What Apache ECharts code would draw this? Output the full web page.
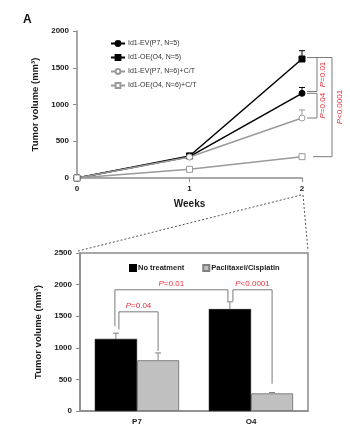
<!DOCTYPE html>
<html><head><meta charset="utf-8">
<script src="https://cdn.jsdelivr.net/npm/echarts@6/dist/echarts.min.js"></script>
<style>html,body{margin:0;padding:0;background:#fff}#c{width:350px;height:434px}</style>
</head><body><div id="c"></div>
<script>
// ---------- data: top line chart ----------
const weeks = [0, 1, 2];
const weekTicks = ['0', '1', '2'];
const lineNames = ['Id1-EV(P7, N=5)', 'Id1-OE(O4, N=5)', 'Id1-EV(P7, N=6)+C/T', 'Id1-OE(O4, N=6)+C/T'];
const evP7 = [0, 290, 1152];
const evP7Err = [0, 40, 80];
const oeO4 = [0, 300, 1619];
const oeO4Err = [0, 35, 113];
const evP7CT = [0, 285, 816];
const evP7CTErr = [0, 45, 110];
const oeO4CT = [0, 118, 290];
const oeO4CTErr = [0, 12, 12];
// ---------- data: bar chart (week 2) ----------
const groups = ['P7', 'O4'];
const barNames = ['No treatment', 'Paclitaxel/Cisplatin'];
const noTreat = [1141, 1612];
const noTreatErr = [90, 115];
const chemo = [804, 280];
const chemoErr = [115, 12];
// ---------- significance labels ----------
const pLabels = ['P=0.01', 'P=0.04', 'P<0.0001'];

const lineVals = [evP7, oeO4, evP7CT, oeO4CT];
const lineErrs = [evP7Err, oeO4Err, evP7CTErr, oeO4CTErr];
const lineColors = ['#000000', '#000000', '#9a9a9a', '#9a9a9a'];
const lineSymbols = ['circle', 'rect', 'circle', 'rect'];
const lineFill = ['#000000', '#000000', '#ffffff', '#ffffff'];
const RED = '#e8303c';
const FONT = 'Liberation Sans';

const chart = echarts.init(document.getElementById('c'), null, {renderer: 'canvas'});

function pText(i) {
  const s = pLabels[i];
  return '{i|P}' + s.slice(1);
}

// line error bars
const lineErrData = [];
lineVals.forEach((vals, si) => {
  weeks.forEach((w, wi) => {
    if (lineErrs[si][wi] > 0) lineErrData.push([w, vals[wi], lineErrs[si][wi], si]);
  });
});

// bar error bars: [cat, value, err, side]
const barErrData = [];
groups.forEach((g, gi) => {
  barErrData.push([gi, noTreat[gi], noTreatErr[gi], -1]);
  barErrData.push([gi, chemo[gi], chemoErr[gi], 1]);
});

// line brackets: [yFrom, yTo, label index, type]
const lineBrackets = [
  [oeO4[2] + 20, evP7[2] + 25, 0, 0],
  [evP7[2], evP7CT[2], 1, 0],
  [oeO4[2] + 20, oeO4CT[2], 2, 1]
];
// bar brackets: [catA, sideA, endA, catB, sideB, endB, top, label, nudgeA, nudgeB]
const barBrackets = [
  [0, -1, noTreat[0] + noTreatErr[0] + 60, 0, 1, chemo[0] + chemoErr[0] + 30, 1569, 1, 3, 0],
  [0, -1, noTreat[0] + noTreatErr[0] + 110, 1, -1, noTreat[1] + noTreatErr[1] + 5, 1918, 0, -1, -2],
  [1, -1, noTreat[1] + noTreatErr[1] + 5, 1, 1, chemo[1] + chemoErr[1] + 140, 1918, 2, 3, 0]
];

const BAR_RATIO = 0.37;

const series = [];
lineVals.forEach((vals, i) => {
  series.push({
    name: lineNames[i], type: 'line', xAxisIndex: 0, yAxisIndex: 0,
    data: weeks.map((w, k) => [w, vals[k]]),
    symbol: lineSymbols[i], symbolSize: 6, z: 5,
    lineStyle: {color: lineColors[i], width: 1.5},
    itemStyle: {color: lineFill[i], borderColor: lineColors[i], borderWidth: 1},
    emphasis: {disabled: true}, animation: false
  });
});
series.push({
  type: 'custom', xAxisIndex: 0, yAxisIndex: 0, data: lineErrData, z: 3, animation: false,
  renderItem(params, api) {
    const p0 = api.coord([api.value(0), api.value(1)]);
    const p1 = api.coord([api.value(0), api.value(1) + api.value(2)]);
    const c = lineColors[api.value(3)];
    return {type: 'group', children: [
      {type: 'line', shape: {x1: p0[0], y1: p0[1], x2: p1[0], y2: p1[1]}, style: {stroke: c, lineWidth: 1}},
      {type: 'line', shape: {x1: p1[0] - 3, y1: p1[1], x2: p1[0] + 3, y2: p1[1]}, style: {stroke: c, lineWidth: 1}}
    ]};
  }
});
series.push({
  type: 'custom', xAxisIndex: 0, yAxisIndex: 0, data: lineBrackets, z: 4, animation: false,
  renderItem(params, api) {
    const a = api.coord([2, api.value(0)]);
    const b = api.coord([2, api.value(1)]);
    const outer = api.value(3) === 1;
    const xs1 = a[0] + (outer ? 6 : 5), xs2 = b[0] + (outer ? 11 : 5);
    const xv = a[0] + (outer ? 30 : 15);
    const tx = a[0] + (outer ? 38 : 21);
    const st = {stroke: '#7a7a7a', lineWidth: 1, fill: null};
    return {type: 'group', children: [
      {type: 'polyline', shape: {points: [[xs1, a[1]], [xv, a[1]], [xv, b[1]], [xs2, b[1]]]}, style: st},
      {type: 'text', x: tx, y: (a[1] + b[1]) / 2, rotation: Math.PI / 2,
        style: {text: pText(api.value(2)), fill: RED, font: '8px ' + FONT, align: 'center', verticalAlign: 'middle',
          rich: {i: {fontStyle: 'italic', fill: RED, fontSize: 8, fontFamily: FONT}}}}
    ]};
  }
});
// bars
series.push({
  name: barNames[0], type: 'bar', xAxisIndex: 1, yAxisIndex: 1, data: noTreat,
  barWidth: (BAR_RATIO * 100) + '%', barGap: '0%',
  itemStyle: {color: '#000000', borderColor: '#000000', borderWidth: 0.5}, animation: false, z: 2
});
series.push({
  name: barNames[1], type: 'bar', xAxisIndex: 1, yAxisIndex: 1, data: chemo,
  barWidth: (BAR_RATIO * 100) + '%', barGap: '0%',
  itemStyle: {color: '#c0c0c0', borderColor: '#808080', borderWidth: 1}, animation: false, z: 2
});
series.push({
  type: 'custom', xAxisIndex: 1, yAxisIndex: 1, data: barErrData, z: 3, animation: false,
  renderItem(params, api) {
    const bw = api.size([1, 0])[0] * BAR_RATIO;
    const p0 = api.coord([api.value(0), api.value(1)]);
    const p1 = api.coord([api.value(0), api.value(1) + api.value(2)]);
    const x = p0[0] + api.value(3) * bw / 2;
    const st = {stroke: '#808080', lineWidth: 1};
    return {type: 'group', children: [
      {type: 'line', shape: {x1: x, y1: p0[1], x2: x, y2: p1[1]}, style: st},
      {type: 'line', shape: {x1: x - 3, y1: p1[1], x2: x + 3, y2: p1[1]}, style: st}
    ]};
  }
});
series.push({
  type: 'custom', xAxisIndex: 1, yAxisIndex: 1, data: barBrackets, z: 4, animation: false,
  renderItem(params, api) {
    const bw = api.size([1, 0])[0] * BAR_RATIO;
    const pa = api.coord([api.value(0), api.value(2)]);
    const pb = api.coord([api.value(3), api.value(5)]);
    const top = api.coord([0, api.value(6)])[1];
    const xa = pa[0] + api.value(1) * bw / 2 + api.value(8);
    const xb = pb[0] + api.value(4) * bw / 2 + api.value(9);
    const st = {stroke: '#7a7a7a', lineWidth: 1, fill: null};
    return {type: 'group', children: [
      {type: 'polyline', shape: {points: [[xa, pa[1]], [xa, top], [xb, top], [xb, pb[1]]]}, style: st},
      {type: 'text', x: (xa + xb) / 2, y: top - 2,
        style: {text: pText(api.value(7)), fill: RED, font: '8px ' + FONT, align: 'center', verticalAlign: 'bottom',
          rich: {i: {fontStyle: 'italic', fill: RED, fontSize: 8, fontFamily: FONT}}}}
    ]};
  }
});

const axisLine = {lineStyle: {color: '#8c8c8c', width: 1.5}};
const tickLab = {fontFamily: FONT, fontSize: 8, fontWeight: 'bold', color: '#1a1a1a'};
const plainNum = v => String(v);

const GRID1 = {left: 77, top: 31, width: 225, height: 147};
const GRID2 = {left: 80, top: 253, width: 228, height: 158};

chart.setOption({
  animation: false,
  textStyle: {fontFamily: FONT},
  title: {text: 'A', left: 18, top: 9, textStyle: {fontSize: 12, fontWeight: 'bold', color: '#111', fontFamily: FONT}},
  grid: [
    Object.assign({}, GRID1),
    Object.assign({show: true, borderColor: '#8c8c8c', borderWidth: 1.5, backgroundColor: 'transparent'}, GRID2)
  ],
  legend: [
    {data: lineNames, orient: 'vertical', left: 105, top: 35, itemWidth: 14, itemHeight: 6, itemGap: 7,
      textStyle: {fontFamily: FONT, fontSize: 7, color: '#333', padding: [0, 0, 0, -2]}, selectedMode: false},
    {data: barNames, orient: 'horizontal', left: 124, top: 259, icon: 'rect', itemWidth: 6, itemHeight: 6, itemGap: 18,
      textStyle: {fontFamily: FONT, fontSize: 7.5, fontWeight: 'bold', color: '#222', padding: [0, 0, 0, -3]}, selectedMode: false}
  ],
  xAxis: [
    {gridIndex: 0, type: 'value', min: 0, max: 2, interval: 1,
      axisLine: axisLine, axisTick: {show: true, length: 4, lineStyle: {color: '#8c8c8c'}},
      splitLine: {show: false},
      axisLabel: Object.assign({margin: 7, formatter: v => weekTicks[v]}, tickLab),
      name: 'Weeks', nameLocation: 'middle', nameGap: 21,
      nameTextStyle: {fontFamily: FONT, fontSize: 10, fontWeight: 'bold', color: '#1a1a1a'}},
    {gridIndex: 1, type: 'category', data: groups,
      axisLine: axisLine, axisTick: {show: false},
      axisLabel: Object.assign({margin: 7}, tickLab)}
  ],
  yAxis: [
    {gridIndex: 0, type: 'value', min: 0, max: 2000, interval: 500,
      axisLine: Object.assign({show: true}, axisLine), axisTick: {show: true, length: 4, lineStyle: {color: '#8c8c8c'}},
      splitLine: {show: false}, axisLabel: Object.assign({margin: 8, formatter: plainNum}, tickLab),
      name: 'Tumor volume (mm³)', nameLocation: 'middle', nameGap: 31,
      nameTextStyle: {fontFamily: FONT, fontSize: 9.5, fontWeight: 'bold', color: '#1a1a1a'}},
    {gridIndex: 1, type: 'value', min: 0, max: 2500, interval: 500,
      axisLine: Object.assign({show: true}, axisLine), axisTick: {show: true, length: 4, lineStyle: {color: '#8c8c8c'}},
      splitLine: {show: false}, axisLabel: Object.assign({margin: 8, formatter: plainNum}, tickLab),
      name: 'Tumor volume (mm³)', nameLocation: 'middle', nameGap: 31,
      nameTextStyle: {fontFamily: FONT, fontSize: 9.5, fontWeight: 'bold', color: '#1a1a1a'}}
  ],
  series: series
});

// dashed zoom-out lines from week 2 to the bar panel corners
const p2 = chart.convertToPixel({xAxisIndex: 0, yAxisIndex: 0}, [2, 0]);
const boxTop = chart.convertToPixel({xAxisIndex: 1, yAxisIndex: 1}, [0, 2500])[1];
const dashSt = {stroke: '#555', lineWidth: 1, lineDash: [2, 2]};
chart.setOption({
  graphic: [
    {type: 'line', shape: {x1: p2[0] - 1, y1: p2[1] + 17, x2: GRID2.left - 2, y2: boxTop - 2}, style: dashSt, silent: true},
    {type: 'line', shape: {x1: p2[0] + 1, y1: p2[1] + 17, x2: GRID2.left + GRID2.width, y2: boxTop - 2}, style: dashSt, silent: true}
  ]
});
</script>
</body></html>
